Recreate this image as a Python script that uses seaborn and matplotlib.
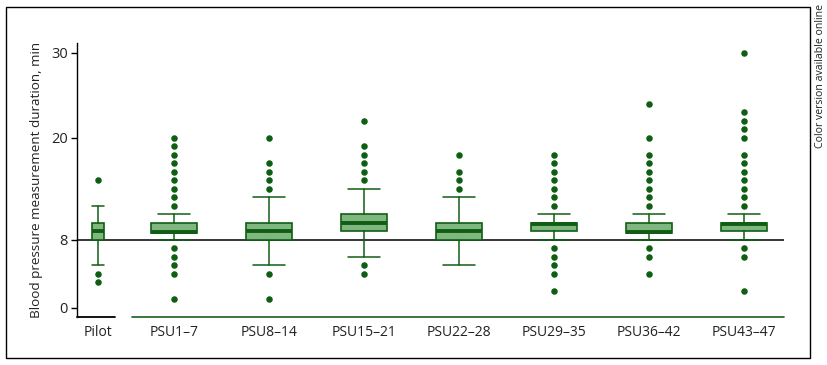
#! /usr/bin/env python3
# Box plots of blood pressure measurement duration per PSU block
import matplotlib.pyplot as plt
from matplotlib.patches import Rectangle
import numpy as np
import pandas as pd
import seaborn as sns

# settings
sns.set_style("ticks")
plt.rcParams['font.family'] = ['Open Sans', 'DejaVu Sans']

# data (minutes)
groups = ["Pilot", "PSU1–7", "PSU8–14", "PSU15–21", "PSU22–28",
          "PSU29–35", "PSU36–42", "PSU43–47"]
q1 = [8, 8.8, 8, 9, 8, 9, 8.8, 9]
med = [9, 8.95, 9, 10, 9, 9.85, 8.95, 9.85]
q3 = [10, 10, 10, 11, 10, 10, 10, 10]
whislo = [5, 8, 5, 6, 5, 8, 8, 8]
whishi = [12, 11, 13, 14, 13, 11, 11, 11]
outliers = [
    [15, 4, 3],
    [20, 19, 18, 17, 16, 15, 14, 13, 12, 7, 6, 5, 4, 1],
    [20, 17, 16, 15, 14, 4, 1],
    [22, 19, 18, 17, 16, 15, 5, 4],
    [18, 16, 15, 14],
    [18, 17, 16, 15, 14, 13, 12, 7, 6, 5, 4, 2],
    [24, 20, 18, 17, 16, 15, 14, 13, 12, 7, 6, 4],
    [30, 23, 22, 21, 20, 18, 17, 16, 15, 14, 13, 12, 7, 6, 2],
]
reference = 8
yticks = [0, 8, 20, 30]

# layout
pos = [0.2, 1, 2, 3, 4, 5, 6, 7]
widths = [0.13] + [0.49] * 7
caps = [0.13] + [0.34] * 7
dark = '#0f5e14'
fill = '#80b780'

fig = plt.figure(figsize=(8.28, 3.65), dpi=100)
ax = fig.add_axes([0.0934, 0.1314, 0.8531, 0.7499])

ax.axhline(reference, color='black', lw=1.1, zorder=1)

stats = [dict(label=g, q1=a, med=m, q3=b, whislo=lo, whishi=hi, fliers=[])
         for g, a, m, b, lo, hi in zip(groups, q1, med, q3, whislo, whishi)]
ax.bxp(stats, positions=pos, widths=widths, capwidths=caps, patch_artist=True,
       showfliers=False, manage_ticks=False,
       boxprops=dict(facecolor=fill, edgecolor=dark, lw=1.2),
       medianprops=dict(color=dark, lw=2.8, solid_capstyle='butt'),
       whiskerprops=dict(color=dark, lw=1.1),
       capprops=dict(color=dark, lw=1.1))

fl = pd.DataFrame([(p, v) for p, vals in zip(pos, outliers) for v in vals],
                  columns=['pos', 'minutes'])
sns.scatterplot(data=fl, x='pos', y='minutes', color=dark, s=22,
                linewidth=0, ax=ax, zorder=4)

ax.set_xlim(-0.02, 7.42)
ax.set_ylim(-1.1, 31.1)
ax.set_yticks(yticks)
ax.set_xticks(pos)
ax.set_xticklabels(groups)
ax.tick_params(axis='x', length=0, pad=6, labelsize=10, colors='#222222')
ax.tick_params(axis='y', length=4, width=1, pad=3, labelsize=10.5,
               colors='black', labelcolor='#222222')
ax.set_xlabel("")
ax.set_ylabel("Blood pressure measurement duration, min", fontsize=9.7,
              color='#222222', labelpad=6)
sns.despine(ax=ax, top=True, right=True, bottom=True)
ax.spines['left'].set_color('black')
ax.spines['left'].set_linewidth(1)

# split baseline: black under pilot, green under PSU blocks
ax.plot([-0.02, 0.375], [-1.1, -1.1], color='black', lw=1.3, clip_on=False)
ax.plot([0.56, 7.42], [-1.1, -1.1], color='#2e6b2e', lw=1.3, clip_on=False)

# frame and side note
fig.patches.append(Rectangle((6 / 828, 7 / 365), 804 / 828, 351 / 365,
                             transform=fig.transFigure, fill=False,
                             edgecolor='black', lw=1))
fig.text(0.9915, 0.988, "Color version available online", rotation=90,
         ha='center', va='top', fontsize=7.6, color='#222222')

fig.savefig('out.png', dpi=100)
plt.close()
